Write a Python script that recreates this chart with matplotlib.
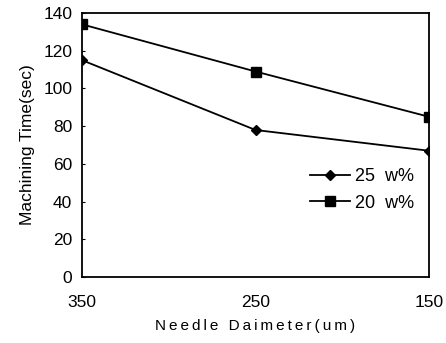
import matplotlib
matplotlib.use("Agg")
import matplotlib.pyplot as plt

diameters = ["350", "250", "150"]
w25 = [115, 78, 67]
w20 = [134, 109, 85]
yticks = [0, 20, 40, 60, 80, 100, 120, 140]

plt.rcParams['font.family'] = ['Liberation Sans', 'DejaVu Sans']

fig = plt.figure(figsize=(4.46, 3.43), dpi=100)
ax = fig.add_axes([0.184, 0.192, 0.778, 0.770])

xs = list(range(len(diameters)))
ax.plot(xs, w25, color='black', lw=1.3, marker='D', ms=5.5, label='25  w%')
ax.plot(xs, w20, color='black', lw=1.3, marker='s', ms=7, label='20  w%')

ax.set_xlim(0, 2)
ax.set_ylim(0, 140)
ax.set_xticks(xs)
ax.set_xticklabels(diameters)
ax.set_yticks(yticks)
ax.tick_params(axis='x', length=0, pad=13, labelsize=12.5)
ax.tick_params(axis='y', length=2, direction='in', pad=7, labelsize=12.5)
for s in ax.spines.values():
    s.set_linewidth(1.3)

xlabel = "\u2009".join("Needle Daimeter(um)")
ax.set_xlabel(xlabel, fontsize=11, labelpad=6)
ax.set_ylabel("Machining Time(sec)", fontsize=12.5, labelpad=6)

ax.legend(loc='center left', bbox_to_anchor=(0.61, 0.33), frameon=False,
          fontsize=13, handlelength=2.2, handletextpad=0.3, labelspacing=0.5)

fig.savefig("out.png", dpi=100)
